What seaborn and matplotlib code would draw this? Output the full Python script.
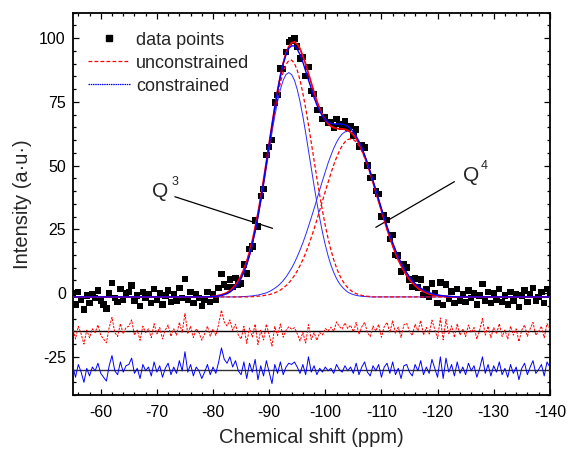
import numpy as np
import seaborn as sns
import matplotlib
matplotlib.use("Agg")
import matplotlib.pyplot as plt
from matplotlib.lines import Line2D
from matplotlib.ticker import MultipleLocator

sns.set_theme(style="ticks")
plt.rcParams['font.family'] = ['Liberation Sans', 'DejaVu Sans']
plt.rcParams['mathtext.default'] = 'regular'
plt.rcParams['axes.unicode_minus'] = False

# chemical shift axis (ppm), spectrum sampled every 0.5 ppm
shift = np.linspace(-55, -140, 171)
baseline = -1.5

# fitted components, listed from the window start (ppm) in 0.5 ppm steps
q3_constrained_start = -79.5
q3_constrained = [0.1, 0.16, 0.25, 0.4, 0.6, 0.9, 1.3, 1.9, 2.8, 3.9, 5.3, 7.2, 9.6, 12.5, 16.1,
                  20.4, 25.3, 30.9, 37.0, 43.6, 50.6, 57.6, 64.4, 70.9, 76.6, 81.4, 85.0, 87.2,
                  88.0,
                  87.2, 85.0, 81.4, 76.6, 70.9, 64.4, 57.6, 50.6, 43.6, 37.0, 30.9, 25.3, 20.4,
                  16.1, 12.5, 9.6, 7.2, 5.3, 3.9, 2.8, 1.9, 1.3, 0.9, 0.6, 0.4, 0.25, 0.16, 0.1]
q4_constrained_start = -85.0
q4_constrained = [0.1, 0.16, 0.2, 0.3, 0.4, 0.6, 0.7, 1.0, 1.3, 1.6, 2.1, 2.7, 3.4, 4.2, 5.2, 6.4,
                  7.8, 9.5, 11.3, 13.4, 15.8, 18.4, 21.2, 24.3, 27.6, 31.1, 34.6, 38.3, 42.0,
                  45.6, 49.1, 52.5, 55.5, 58.3, 60.6, 62.5, 63.9, 64.7,
                  65.0,
                  64.7, 63.9, 62.5, 60.6, 58.3, 55.5, 52.5, 49.1, 45.6, 42.0, 38.3, 34.6, 31.1,
                  27.6, 24.3, 21.2, 18.4, 15.8, 13.4, 11.3, 9.5, 7.8, 6.4, 5.2, 4.2, 3.4, 2.7,
                  2.1, 1.6, 1.3, 1.0, 0.7, 0.6, 0.4, 0.3, 0.2, 0.16, 0.1]
q3_unconstrained_start = -80.0
q3_unconstrained = [0.24, 0.37, 0.56, 0.82, 1.2, 1.7, 2.4, 3.4, 4.6, 6.2, 8.3, 10.8, 13.9, 17.6,
                    21.9, 26.9, 32.5, 38.7, 45.3, 52.2, 59.2, 66.2, 72.8, 78.8, 84.0, 88.2, 91.2,
                    92.7, 92.9, 91.6, 88.9, 85.0, 79.9, 74.1, 67.5, 60.6, 53.6, 46.6, 40.0, 33.7,
                    28.0, 22.9, 18.4, 14.6, 11.4, 8.7, 6.6, 4.9, 3.6, 2.6, 1.8, 1.3, 0.89, 0.6,
                    0.4, 0.26, 0.17]
q4_unconstrained_start = -87.0
q4_unconstrained = [0.14, 0.19, 0.27, 0.37, 0.51, 0.69, 0.9, 1.2, 1.6, 2.1, 2.7, 3.5, 4.4, 5.5,
                    6.8, 8.4, 10.2, 12.3, 14.6, 17.2, 20.1, 23.3, 26.6, 30.2, 33.9, 37.6, 41.4,
                    45.0, 48.5, 51.8, 54.7, 57.2, 59.3, 60.8, 61.7,
                    62.0,
                    61.7, 60.8, 59.3, 57.2, 54.7, 51.8, 48.5, 45.0, 41.4, 37.6, 33.9, 30.2, 26.6,
                    23.3, 20.1, 17.2, 14.6, 12.3, 10.2, 8.4, 6.8, 5.5, 4.4, 3.5, 2.7, 2.1, 1.6,
                    1.2, 0.9, 0.69, 0.51, 0.37, 0.27, 0.19, 0.14]

# residual of the constrained fit (data - fit), -55 ... -140 ppm
residual = [1.5, -3.0, 2.0, -1.0, -5.0, 0.5, -2.5, 1.0, -0.5, 2.5,
            -1.5, -3.0, -4.5, 1.5, 5.5, -0.5, -2.0, 3.0, -1.0, 1.5,
            2.0, 4.5, -1.5, 0.5, -3.5, 2.0, -0.5, 1.0, -2.5, 3.0,
            -1.0, 1.5, -3.0, 0.5, 2.5, -2.0, 1.0, -1.5, 3.5, -0.5,
            7.0, -1.0, 2.0, -2.5, 1.0, -0.5, -3.5, -1.0, 2.0, -2.0,
            1.0, -1.5, 3.0, 8.5, 4.0, 2.5, 5.0, 1.0, 3.5, -0.5,
            -2.0, 3.0, -3.5, 2.5, -1.0, 4.0, -4.0, 1.5, -2.5, 3.5,
            -1.0, -5.5, 2.0, -1.5, 3.0, -2.0, 1.0, 2.5, 2.0, 3.0,
            1.0, -1.5, 2.0, -2.0, 5.0, -1.0, 1.5, -2.0, 0.5, -1.0,
            1.0, -0.5, 0.5, -1.5, 2.0, 0.0, -1.0, 1.5, -0.5, 1.0,
            -1.5, 2.5, -2.0, 1.0, 3.0, -1.0, -2.5, 1.5, -0.5, 2.0,
            -3.0, 1.0, 2.5, -1.5, 3.0, -2.0, 0.5, -3.5, 1.5, 2.0,
            -1.0, -2.5, 2.0, -0.5, 3.5, -2.0, 1.0, -1.5, 4.0, 0.5,
            -3.0, 5.0, -3.5, 4.5, -1.0, 2.0, -2.5, 3.0, -1.5, 1.0,
            -2.0, 2.5, -0.5, 1.5, -3.0, 0.5, 5.0, -1.5, 2.0, -2.5,
            1.5, -1.0, 3.0, -2.0, 0.5, -3.0, 2.0, -1.5, 1.0, -4.0,
            0.5, 2.5, -2.0, 1.0, 3.5, -1.5, 0.0, 2.0, -2.5, 3.0, 1.0]

red_offset = -15
blue_offset = -30


def on_grid(values, start):
    arr = np.zeros(len(shift))
    i0 = int(np.argmin(np.abs(shift - start)))
    arr[i0:i0 + len(values)] = values
    return arr


bq3 = baseline + on_grid(q3_constrained, q3_constrained_start)
bq4 = baseline + on_grid(q4_constrained, q4_constrained_start)
rq3 = baseline + on_grid(q3_unconstrained, q3_unconstrained_start)
rq4 = baseline + on_grid(q4_unconstrained, q4_unconstrained_start)
blue_fit = bq3 + bq4 - baseline
red_fit = rq3 + rq4 - baseline
data = blue_fit + np.array(residual)
red_resid = data - red_fit + red_offset
blue_resid = data - blue_fit + blue_offset

fig = plt.figure(figsize=(5.68, 4.51), dpi=100)
ax = fig.add_axes([0.128, 0.124, 0.840, 0.848])

RED = '#ff0000'
BLUE = '#0000ff'
dash = (0, (3.0, 1.8))
dot = (0, (1.2, 0.6))

sns.scatterplot(x=shift, y=data, marker='s', s=21, color='black', edgecolor='none',
                linewidth=0, ax=ax, zorder=2, legend=False)

line_kw = dict(ax=ax, estimator=None, errorbar=None, legend=False)
sns.lineplot(x=shift, y=bq3, color='#2a2aff', lw=0.7, zorder=3, **line_kw)
sns.lineplot(x=shift, y=bq4, color='#2a2aff', lw=0.7, zorder=3, **line_kw)
sns.lineplot(x=shift, y=rq3, color=RED, lw=0.9, linestyle=dash, zorder=3, **line_kw)
sns.lineplot(x=shift, y=rq4, color=RED, lw=0.9, linestyle=dash, zorder=3, **line_kw)
sns.lineplot(x=shift, y=red_fit, color=RED, lw=1.3, zorder=4, **line_kw)
sns.lineplot(x=shift, y=blue_fit, color=BLUE, lw=1.0, zorder=5, **line_kw)

# residuals with their zero lines
ax.axhline(red_offset, color='black', lw=1.0, zorder=3)
ax.axhline(blue_offset, color='#333333', lw=1.0, zorder=3)
sns.lineplot(x=shift, y=red_resid, color=RED, lw=0.7, linestyle=(0, (2.5, 1.2)), zorder=4, **line_kw)
sns.lineplot(x=shift, y=blue_resid, color=BLUE, lw=0.7, zorder=4, **line_kw)

# peak labels
ax.text(-70.6, 39.7, 'Q', fontsize=15, ha='center', va='center')
ax.text(-73.2, 43.5, '3', fontsize=9, ha='center', va='center')
ax.plot([-73.2, -90.6], [37.8, 25.4], color='black', lw=0.9)
ax.text(-125.9, 46.3, 'Q', fontsize=15, ha='center', va='center')
ax.text(-128.3, 49.8, '4', fontsize=9, ha='center', va='center')
ax.plot([-123.0, -109.0], [43.7, 25.8], color='black', lw=0.9)

ax.set_xlim(-55, -140)
ax.set_ylim(-40, 110)
ax.xaxis.set_major_locator(MultipleLocator(10))
ax.xaxis.set_minor_locator(MultipleLocator(2))
ax.yaxis.set_major_locator(MultipleLocator(25))
ax.yaxis.set_minor_locator(MultipleLocator(5))
ax.tick_params(which='both', direction='in', top=True, right=True, width=0.9, colors='black')
ax.tick_params(which='major', length=4.5)
ax.tick_params(which='minor', length=2.3)
ax.tick_params(axis='x', which='major', labelsize=11.5, pad=7)
ax.tick_params(axis='y', which='major', labelsize=11.5, pad=5)
for sp in ax.spines.values():
    sp.set_linewidth(1.3)
    sp.set_color('black')
    sp.set_visible(True)

ax.set_xlabel('Chemical shift (ppm)', fontsize=14.5, labelpad=6)
ax.set_ylabel('Intensity (a\u00b7u\u00b7)', fontsize=14.5, labelpad=5)

handles = [
    Line2D([], [], marker='s', color='black', linestyle='none', markersize=4.6),
    Line2D([], [], color=RED, lw=0.9, linestyle=dash),
    Line2D([], [], color=BLUE, lw=0.9, linestyle=dot),
]
ax.legend(handles, ['data points', 'unconstrained', 'constrained'], loc='upper left',
          bbox_to_anchor=(0.032, 0.95), frameon=False, fontsize=13, handlelength=2.35,
          handletextpad=0.3, labelspacing=0.33, borderpad=0, borderaxespad=0, numpoints=1)

fig.savefig('out.png', dpi=100)
